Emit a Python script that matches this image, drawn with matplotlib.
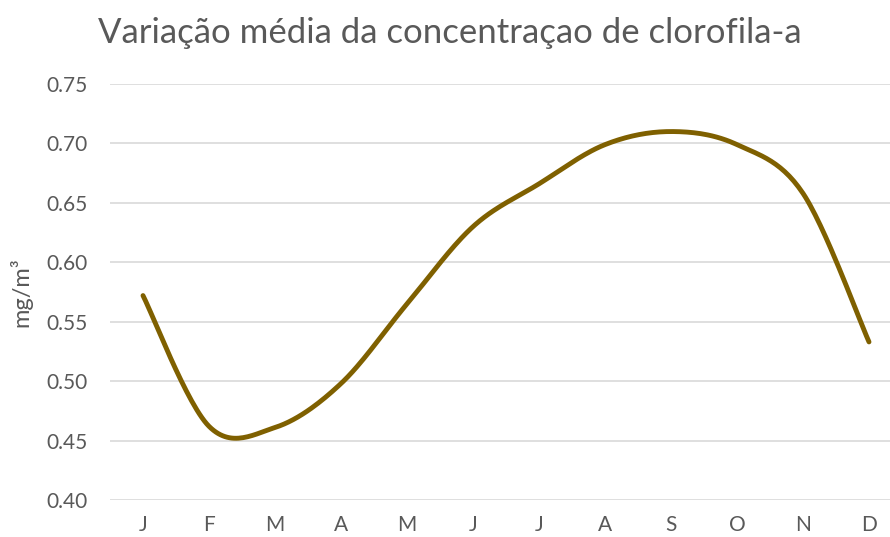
import numpy as np
import matplotlib
matplotlib.use('Agg')
from matplotlib import pyplot as plt

months = ['J', 'F', 'M', 'A', 'M', 'J', 'J', 'A', 'S', 'O', 'N', 'D']
clorofila = [0.572, 0.462, 0.461, 0.498, 0.565, 0.630, 0.666, 0.699, 0.710, 0.699, 0.658, 0.533]
title = 'Variação média da concentraçao de clorofila-a'
ylabel = 'mg/m\u00b3'
yticks = [0.40, 0.45, 0.50, 0.55, 0.60, 0.65, 0.70, 0.75]

plt.rcParams['font.family'] = ['Lato', 'DejaVu Sans']
gray = '#595959'


def smooth(x, y, n=30):
    # Excel-like smoothed line: Catmull-Rom style bezier through the points
    x = np.asarray(x, float)
    y = np.asarray(y, float)
    px = np.concatenate([[x[0]], x, [x[-1]]])
    py = np.concatenate([[y[0]], y, [y[-1]]])
    t = np.linspace(0, 1, n)[:, None]
    xs, ys = [], []
    for i in range(1, len(px) - 2):
        p0 = np.array([px[i], py[i]])
        p3 = np.array([px[i + 1], py[i + 1]])
        p1 = p0 + (np.array([px[i + 1], py[i + 1]]) - np.array([px[i - 1], py[i - 1]])) / 6
        p2 = p3 - (np.array([px[i + 2], py[i + 2]]) - np.array([px[i], py[i]])) / 6
        b = (1 - t) ** 3 * p0 + 3 * (1 - t) ** 2 * t * p1 + 3 * (1 - t) * t ** 2 * p2 + t ** 3 * p3
        xs.append(b[:, 0])
        ys.append(b[:, 1])
    return np.concatenate(xs), np.concatenate(ys)


fig = plt.figure(figsize=(8.9, 5.37), dpi=100)
ax = fig.add_axes([110 / 890, 37 / 537, 792 / 890, 416 / 537])

x = np.arange(len(months))
sx, sy = smooth(x, clorofila)
ax.plot(sx, sy, color='#7F6000', lw=3.5, solid_capstyle='round', zorder=3)

ax.set_xlim(-0.5, 11.5)
ax.set_ylim(0.40, 0.75)
ax.set_yticks(yticks)
ax.set_yticklabels(['%.2f' % v for v in yticks])
ax.set_xticks(x)
ax.set_xticklabels(months)
ax.grid(axis='y', color='#D9D9D9', lw=1.2)
ax.set_axisbelow(True)
for s in ax.spines.values():
    s.set_visible(False)
ax.tick_params(axis='both', length=0, labelsize=15, colors=gray)
ax.tick_params(axis='y', pad=16)
ax.tick_params(axis='x', pad=11)
ax.set_ylabel(ylabel, fontsize=17, color=gray)
ax.yaxis.set_label_coords(-78 / 792, 0.5)

fig.text(450 / 890, 1 - 33 / 537, title, fontsize=25, color=gray, ha='center', va='center')

fig.savefig('out.png', dpi=100)
